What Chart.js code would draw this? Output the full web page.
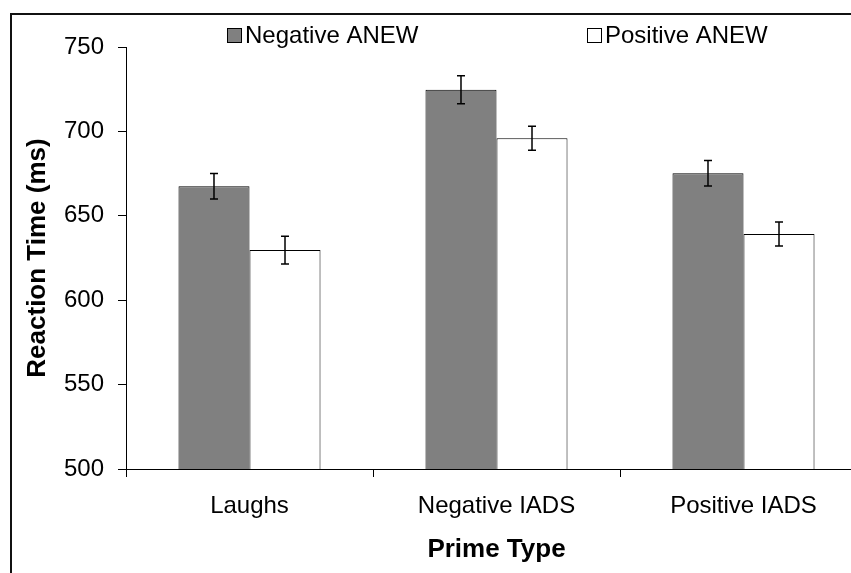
<!DOCTYPE html>
<html>
<head>
<meta charset="utf-8">
<script src="https://cdn.jsdelivr.net/npm/chart.js@4/dist/chart.umd.min.js"></script>
<style>
  html, body { margin: 0; padding: 0; overflow: hidden; background: #fff; width: 851px; height: 573px; }
  #wrap { position: absolute; left: 0; top: 0; width: 900px; height: 573px; }
  #frame { position: absolute; left: 10px; top: 13px; width: 900px; height: 600px;
           border-left: 2px solid #111; border-top: 2px solid #111; pointer-events: none; }
</style>
</head>
<body>
<div id="wrap"><canvas id="c"></canvas></div>
<div id="frame"></div>
<script>
const categories = ['Laughs', 'Negative IADS', 'Positive IADS'];
const seriesNames = ['Negative ANEW', 'Positive ANEW'];
const negativeANEW = [667.5, 724.7, 675.2];
const positiveANEW = [629.7, 696.0, 639.2];
const negativeErr = [7.6, 8.3, 7.5];
const positiveErr = [8.2, 7.1, 7.1];
const yTicks = [500, 550, 600, 650, 700, 750];

const FONT = "'Liberation Sans', Arial, sans-serif";

const errorBars = {
  id: 'errorBars',
  afterDatasetsDraw(chart) {
    const ctx = chart.ctx;
    const y = chart.scales.y;
    ctx.save();
    ctx.strokeStyle = '#000';
    ctx.lineWidth = 1.5;
    chart.data.datasets.forEach((ds, di) => {
      const meta = chart.getDatasetMeta(di);
      meta.data.forEach((bar, i) => {
        const v = ds.data[i], e = ds.err[i];
        const x = bar.x;
        const yt = y.getPixelForValue(v + e);
        const yb = y.getPixelForValue(v - e);
        ctx.beginPath();
        ctx.moveTo(x, yt); ctx.lineTo(x, yb);
        ctx.moveTo(x - 4, yt); ctx.lineTo(x + 4, yt);
        ctx.moveTo(x - 4, yb); ctx.lineTo(x + 4, yb);
        ctx.stroke();
      });
    });
    ctx.restore();
  }
};

const customLegend = {
  id: 'customLegend',
  afterDraw(chart) {
    const ctx = chart.ctx;
    const left = chart.chartArea.left;
    const offsets = [101, 461];
    ctx.save();
    ctx.font = '24px ' + FONT;
    ctx.textBaseline = 'middle';
    ctx.textAlign = 'left';
    chart.data.datasets.forEach((ds, di) => {
      const bx = left + offsets[di];
      const by = 28;
      ctx.fillStyle = ds.backgroundColor;
      ctx.fillRect(bx, by, 15, 15);
      ctx.strokeStyle = '#000';
      ctx.lineWidth = 1;
      ctx.strokeRect(bx + 0.5, by + 0.5, 14, 14);
      ctx.fillStyle = '#000';
      ctx.fillText(ds.label, bx + 18, by + 8);
    });
    ctx.restore();
  }
};

new Chart(document.getElementById('c'), {
  type: 'bar',
  data: {
    labels: categories,
    datasets: [
      { label: seriesNames[0], data: negativeANEW, err: negativeErr,
        backgroundColor: '#808080', borderColor: '#000', borderWidth: 1 },
      { label: seriesNames[1], data: positiveANEW, err: positiveErr,
        backgroundColor: '#ffffff', borderColor: '#000', borderWidth: 1 }
    ]
  },
  options: {
    responsive: true,
    maintainAspectRatio: false,
    animation: false,
    layout: { padding: { top: 47, left: 0, right: 33, bottom: 0 } },
    datasets: { bar: { categoryPercentage: 0.575, barPercentage: 1.0 } },
    plugins: { legend: { display: false }, tooltip: { enabled: false } },
    scales: {
      x: {
        grid: { display: true, drawOnChartArea: false, drawTicks: true, tickLength: 8, color: '#000', offset: true },
        border: { display: true, color: '#000', width: 1 },
        ticks: { color: '#000', font: { family: FONT, size: 24 }, padding: 15, maxRotation: 0 },
        title: { display: true, text: 'Prime Type', color: '#000',
                 font: { family: FONT, size: 26, weight: 'bold' }, padding: { top: 0, bottom: 8 } },
        afterFit(s) { s.height = 104; }
      },
      y: {
        min: 500, max: 750,
        afterBuildTicks(s) { s.ticks = yTicks.map(v => ({ value: v })); },
        grid: { display: true, drawOnChartArea: false, drawTicks: true, tickLength: 8, color: '#000' },
        border: { display: true, color: '#000', width: 1 },
        ticks: { color: '#000', font: { family: FONT, size: 24 }, padding: 14 },
        title: { display: true, text: 'Reaction Time (ms)', color: '#000',
                 font: { family: FONT, size: 26, weight: 'bold' }, padding: { top: 22, bottom: 0 } },
        afterFit(s) { s.width = 126; }
      }
    }
  },
  plugins: [errorBars, customLegend]
});
</script>
</body>
</html>
